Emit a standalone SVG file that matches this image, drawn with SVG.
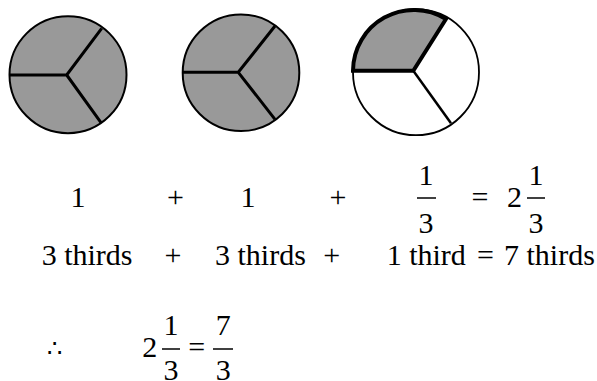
<svg xmlns="http://www.w3.org/2000/svg" width="597" height="381" viewBox="0 0 597 381">
<style>
.m{text-anchor:middle}
.bar{stroke:#000;stroke-width:1.5}
.rim{fill:#999;stroke:#000;stroke-width:2}
.sp{stroke:#000;stroke-width:3;fill:none}
</style>
<rect width="597" height="381" fill="#fff"/>
<g id="circle1">
<circle class="rim" cx="68" cy="74.7" r="58.5"/>
<path class="sp" d="M10,75 L66.7,75 L101.7,28.3 M66.7,75 L101,122.7"/>
</g>
<g id="circle2">
<circle class="rim" cx="241" cy="72.8" r="58.3"/>
<path class="sp" d="M183,72.3 L238.3,72.3 L275,26 M238.3,72.3 L275,119.3"/>
</g>
<g id="circle3">
<circle cx="416" cy="72.2" r="63" fill="#fff" stroke="#000" stroke-width="1.8"/>
<path d="M353,70.7 L413.3,70.7 L446,19 A61,61 0 0 0 353,70.7 Z" fill="#999" stroke="#000" stroke-width="4" stroke-linejoin="miter"/>
<path d="M413.3,70.7 L451,123.3" stroke="#000" stroke-width="2.5" fill="none"/>
</g>
<g font-family="Liberation Serif, DejaVu Serif, serif" font-size="30" fill="#000">
<g id="row1">
<text class="m" x="78" y="207">1</text>
<text class="m" x="175.5" y="207">+</text>
<text class="m" x="248" y="207">1</text>
<text class="m" x="338" y="207">+</text>
<text class="m" x="426" y="185">1</text>
<line class="bar" x1="417" y1="198" x2="436" y2="198"/>
<text class="m" x="426" y="233">3</text>
<text class="m" x="480" y="207">=</text>
<text class="m" x="514.5" y="207">2</text>
<text class="m" x="536" y="185">1</text>
<line class="bar" x1="527" y1="198" x2="545" y2="198"/>
<text class="m" x="536" y="233">3</text>
</g>
<g id="row2">
<text x="41.7" y="265">3 thirds</text>
<text class="m" x="173" y="265">+</text>
<text x="215" y="265">3 thirds</text>
<text class="m" x="331.7" y="265">+</text>
<text x="386.7" y="265">1 third</text>
<text class="m" x="485.5" y="265">=</text>
<text x="504" y="265">7 thirds</text>
</g>
<g id="conclusion">
<text class="m" x="54" y="357" font-size="24">∴</text>
<text class="m" x="149.7" y="357">2</text>
<text class="m" x="171" y="335">1</text>
<line class="bar" x1="162" y1="349" x2="180" y2="349"/>
<text class="m" x="171" y="380">3</text>
<text class="m" x="196.7" y="357">=</text>
<text class="m" x="223.3" y="335">7</text>
<line class="bar" x1="213" y1="349" x2="233" y2="349"/>
<text class="m" x="223.3" y="380">3</text>
</g>
</g>
</svg>
